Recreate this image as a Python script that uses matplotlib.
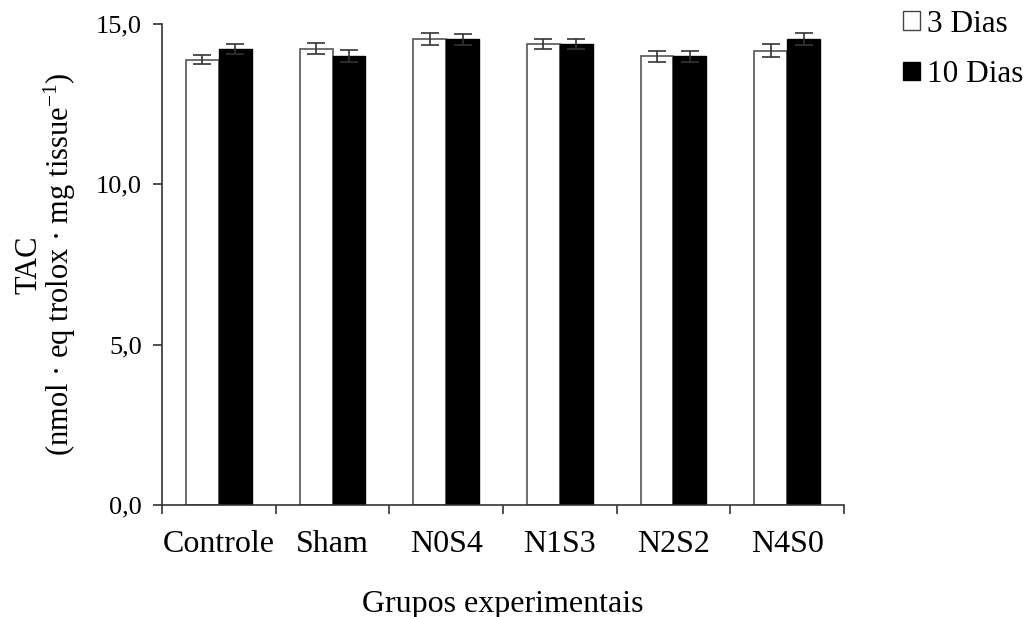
import matplotlib
matplotlib.use("Agg")
import matplotlib.pyplot as plt
import numpy as np
from matplotlib.patches import Patch
from matplotlib.ticker import FixedLocator, FuncFormatter

categories = ["Controle", "Sham", "N0S4", "N1S3", "N2S2", "N4S0"]
dias3 = [13.88, 14.23, 14.52, 14.37, 14.00, 14.17]
dias3_err = [0.14, 0.17, 0.19, 0.16, 0.17, 0.20]
dias10 = [14.21, 14.01, 14.52, 14.37, 14.00, 14.52]
dias10_err = [0.16, 0.18, 0.16, 0.16, 0.17, 0.19]
series_labels = ["3 Dias", "10 Dias"]
yticks = [0.0, 5.0, 10.0, 15.0]

plt.rcParams['font.family'] = ['Liberation Serif', 'DejaVu Serif']
plt.rcParams['mathtext.fontset'] = 'custom'
plt.rcParams['mathtext.rm'] = 'Liberation Serif'
plt.rcParams['mathtext.it'] = 'Liberation Serif:italic'

fig = plt.figure(figsize=(10.30, 6.17), dpi=100)
ax = fig.add_axes([0.1573, 0.1815, 0.6621, 0.7796])

x = np.arange(len(categories))
w = 0.29
ekw = dict(ecolor='#333333', elinewidth=1.2, capthick=1.2)
ax.bar(x - w/2, dias3, w, color='white', edgecolor='#555555', linewidth=1.2,
       yerr=dias3_err, capsize=6.5, error_kw=ekw, zorder=2)
ax.bar(x + w/2, dias10, w, color='black', edgecolor='black', linewidth=1.0,
       yerr=dias10_err, capsize=6.5, error_kw=ekw, zorder=2)

ax.set_xlim(-0.5, len(categories) - 0.5)
ax.set_ylim(0, 15.0)
ax.set_yticks(yticks)
ax.yaxis.set_major_formatter(FuncFormatter(lambda v, p: f"{v:.1f}".replace('.', ',')))
ax.set_xticks(x)
ax.set_xticklabels(categories)
ax.xaxis.set_minor_locator(FixedLocator(np.arange(-0.5, len(categories), 1.0)))
ax.tick_params(axis='x', which='major', length=0, pad=18, labelsize=23)
ax.tick_params(axis='x', which='minor', length=6.5, direction='out', width=1.2, color='#333333')
ax.tick_params(axis='y', length=6.5, direction='out', width=1.2, color='#333333',
               labelsize=19, pad=8)

for s in ['top', 'right']:
    ax.spines[s].set_visible(False)
for s in ['left', 'bottom']:
    ax.spines[s].set_linewidth(1.2)
    ax.spines[s].set_color('#333333')

ax.set_xlabel("Grupos experimentais", fontsize=23, labelpad=22)
ax.set_ylabel("TAC\n(nmol · eq trolox · mg tissue$^{-1}$)", fontsize=22, linespacing=0.95)
ax.yaxis.set_label_coords(-0.123, 0.5)

handles = [Patch(facecolor='white', edgecolor='#444444', linewidth=1.0),
           Patch(facecolor='black', edgecolor='black', linewidth=1.0)]
fig.legend(handles, series_labels, loc='upper left', bbox_to_anchor=(0.8767, 0.984),
           frameon=False, fontsize=22.5, handlelength=0.55, handleheight=0.55,
           handletextpad=0.22, labelspacing=0.68, borderaxespad=0, borderpad=0)

fig.savefig("out.png", dpi=100)
